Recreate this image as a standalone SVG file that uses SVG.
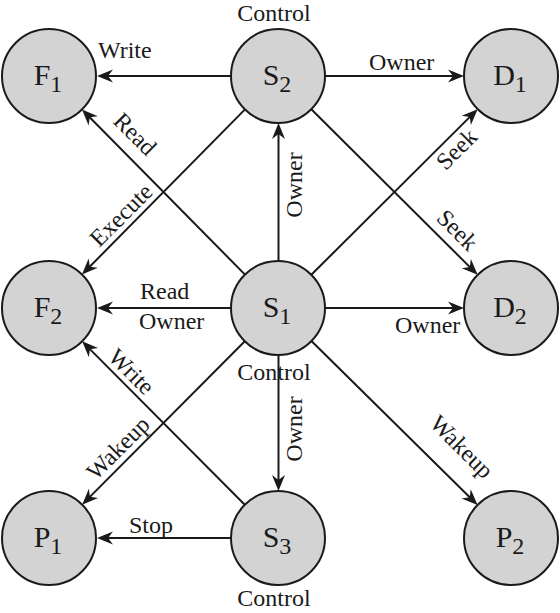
<svg xmlns="http://www.w3.org/2000/svg" width="560" height="613" viewBox="0 0 560 613">
<style>
text{font-family:"Liberation Serif","Times New Roman",serif;fill:#1a1a1a}
.lbl{font-size:24px}
.node circle{fill:#d3d3d3;stroke:#1a1a1a;stroke-width:2}
.node text{font-size:30px}
.sub{font-size:24px}
.edge{stroke:#1a1a1a;stroke-width:2;fill:none;marker-end:url(#arr)}
</style>
<defs>
<marker id="arr" markerUnits="userSpaceOnUse" viewBox="-15 -10 30 20" markerWidth="30" markerHeight="20" refX="0" refY="0" orient="auto" overflow="visible">
<path d="M6,0 L-10,-6.5 L-5,0 L-10,6.5 Z" fill="#1a1a1a"/>
</marker>
</defs>
<g id="connectors">
<line class="edge" x1="231" y1="76" x2="103" y2="76"/>
<line class="edge" x1="325" y1="76" x2="458" y2="76"/>
<line class="edge" x1="231" y1="308" x2="103" y2="308"/>
<line class="edge" x1="325" y1="308" x2="458" y2="308"/>
<line class="edge" x1="231" y1="538" x2="103" y2="538"/>
<line class="edge" x1="278.5" y1="261" x2="278.5" y2="129"/>
<line class="edge" x1="278.5" y1="355" x2="278.5" y2="485"/>
<line class="edge" x1="245" y1="274.6" x2="86.2" y2="113.7"/>
<line class="edge" x1="245" y1="109.4" x2="86.2" y2="270.3"/>
<line class="edge" x1="311.3" y1="274.8" x2="473.4" y2="113.4"/>
<line class="edge" x1="311.3" y1="109.2" x2="473.4" y2="270.6"/>
<line class="edge" x1="244.8" y1="341.3" x2="86.4" y2="500.4"/>
<line class="edge" x1="244.8" y1="504.7" x2="86.4" y2="345.6"/>
<line class="edge" x1="311.4" y1="341" x2="473.3" y2="500.8"/>
<g class="lbl">
<text class="lbl" x="98" y="58">Write</text>
<text class="lbl" x="369" y="70">Owner</text>
<text class="lbl" transform="translate(135,134) rotate(45)" x="0" y="8" text-anchor="middle">Read</text>
<text class="lbl" transform="translate(121,215) rotate(-45)" x="0" y="8" text-anchor="middle">Execute</text>
<text class="lbl" transform="translate(294,185) rotate(-90)" x="0" y="8" text-anchor="middle">Owner</text>
<text class="lbl" transform="translate(456.5,149) rotate(-45)" x="0" y="8" text-anchor="middle">Seek</text>
<text class="lbl" transform="translate(457.5,230) rotate(45)" x="0" y="8" text-anchor="middle">Seek</text>
<text class="lbl" x="140" y="299">Read</text>
<text class="lbl" x="139" y="329">Owner</text>
<text class="lbl" x="395" y="333">Owner</text>
<text class="lbl" transform="translate(131.5,371.5) rotate(45)" x="0" y="8" text-anchor="middle">Write</text>
<text class="lbl" transform="translate(118,448) rotate(-45)" x="0" y="8" text-anchor="middle">Wakeup</text>
<text class="lbl" transform="translate(294,429) rotate(-90)" x="0" y="8" text-anchor="middle">Owner</text>
<text class="lbl" transform="translate(461.7,446.7) rotate(45)" x="0" y="8" text-anchor="middle">Wakeup</text>
<text class="lbl" x="129" y="533">Stop</text>
<text class="lbl" x="274" y="21" text-anchor="middle">Control</text>
<text class="lbl" x="274" y="380" text-anchor="middle">Control</text>
<text class="lbl" x="274" y="606" text-anchor="middle">Control</text>
</g>
</g>
<g id="F1" class="node"><circle cx="49" cy="76" r="47"/><text x="48" y="85" text-anchor="middle">F<tspan class="sub" dy="7">1</tspan></text></g>
<g id="S2" class="node"><circle cx="278" cy="76" r="47"/><text x="277" y="85" text-anchor="middle">S<tspan class="sub" dy="7">2</tspan></text></g>
<g id="D1" class="node"><circle cx="511" cy="76" r="47"/><text x="510" y="85" text-anchor="middle">D<tspan class="sub" dy="7">1</tspan></text></g>
<g id="F2" class="node"><circle cx="49" cy="308" r="47"/><text x="48" y="317" text-anchor="middle">F<tspan class="sub" dy="7">2</tspan></text></g>
<g id="S1" class="node"><circle cx="278" cy="308" r="47"/><text x="277" y="317" text-anchor="middle">S<tspan class="sub" dy="7">1</tspan></text></g>
<g id="D2" class="node"><circle cx="511" cy="308" r="47"/><text x="510" y="317" text-anchor="middle">D<tspan class="sub" dy="7">2</tspan></text></g>
<g id="P1" class="node"><circle cx="49" cy="538" r="47"/><text x="48" y="547" text-anchor="middle">P<tspan class="sub" dy="7">1</tspan></text></g>
<g id="S3" class="node"><circle cx="278" cy="538" r="47"/><text x="277" y="547" text-anchor="middle">S<tspan class="sub" dy="7">3</tspan></text></g>
<g id="P2" class="node"><circle cx="511" cy="538" r="47"/><text x="510" y="547" text-anchor="middle">P<tspan class="sub" dy="7">2</tspan></text></g>
</svg>
